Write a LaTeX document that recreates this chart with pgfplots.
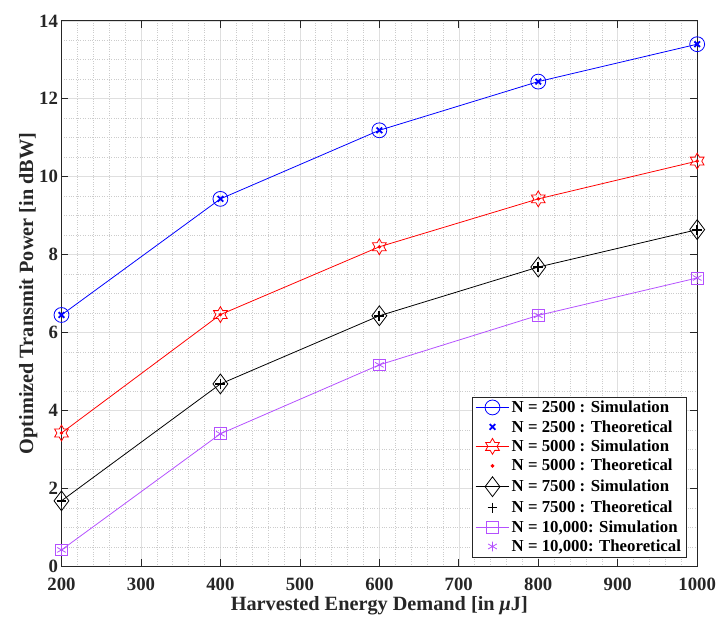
\documentclass[border=0pt]{standalone}
\usepackage{fontspec}
\setmainfont{Liberation Serif}
\usepackage{pgfplots}
\pgfplotsset{compat=1.18}

\definecolor{axgray}{RGB}{38,38,38}
\definecolor{gridgray}{RGB}{223,223,223}
\definecolor{mpurple}{RGB}{180,80,255}

% six-pointed star outline, like MATLAB's hexagram
\pgfdeclareplotmark{hexagram}{%
  \pgfpathmoveto{\pgfpointpolar{90}{\pgfplotmarksize}}%
  \pgfpathlineto{\pgfpointpolar{120}{0.577\pgfplotmarksize}}%
  \pgfpathlineto{\pgfpointpolar{150}{\pgfplotmarksize}}%
  \pgfpathlineto{\pgfpointpolar{180}{0.577\pgfplotmarksize}}%
  \pgfpathlineto{\pgfpointpolar{210}{\pgfplotmarksize}}%
  \pgfpathlineto{\pgfpointpolar{240}{0.577\pgfplotmarksize}}%
  \pgfpathlineto{\pgfpointpolar{270}{\pgfplotmarksize}}%
  \pgfpathlineto{\pgfpointpolar{300}{0.577\pgfplotmarksize}}%
  \pgfpathlineto{\pgfpointpolar{330}{\pgfplotmarksize}}%
  \pgfpathlineto{\pgfpointpolar{0}{0.577\pgfplotmarksize}}%
  \pgfpathlineto{\pgfpointpolar{30}{\pgfplotmarksize}}%
  \pgfpathlineto{\pgfpointpolar{60}{0.577\pgfplotmarksize}}%
  \pgfpathclose
  \pgfusepathqstroke
}

\begin{document}
\begin{tikzpicture}
\begin{axis}[
  scale only axis,
  width=641bp, height=550bp,
  xmin=200, xmax=1000, ymin=0, ymax=14,
  xtick={200,300,...,1000}, ytick={0,2,...,14},
  minor x tick num=4, minor y tick num=3,
  grid=both,
  major grid style={solid, gridgray, line width=0.6bp},
  minor grid style={dotted, gray!40, line width=0.6bp},
  axis line style={axgray, line width=0.7bp},
  tick style={axgray, line width=0.7bp},
  tick align=inside,
  major tick length=7bp, minor tick length=0pt,
  /pgf/number format/assume math mode=true,
  /pgf/number format/set thousands separator={},
  ticklabel style={font=\fontsize{19}{22}\selectfont\bfseries, text=axgray},
  xticklabel style={yshift=-8bp},
  label style={font=\fontsize{20.5}{24}\selectfont\bfseries, text=axgray},
  xlabel={Harvested Energy Demand [in {\itshape μ}J]},
  ylabel={Optimized Transmit Power [in dBW]},
  xlabel style={yshift=1bp},
  ylabel style={yshift=-5bp},
  legend cell align=left,
  legend style={
    at={(1,0)}, anchor=south east, xshift=-11bp, yshift=9bp,
    font=\fontsize{17}{19}\selectfont\bfseries,
    draw=axgray, line width=0.7bp,
    inner xsep=3bp, inner ysep=2bp,
    row sep=2.4bp,
  },
  legend image code/.code={%
    \draw[mark repeat=2, mark phase=2, #1]
      plot coordinates {(0bp,0bp) (17bp,0bp) (34bp,0bp)};},
]
% N = 2500
\addplot[blue, line width=0.8bp, mark=o, mark size=7.5bp] coordinates {
  (200,6.45) (400,9.43) (600,11.19) (800,12.44) (1000,13.40)};
\addlegendentry{N = 2500 : Simulation}
\addplot[blue, only marks, mark=x, mark size=4bp, line width=1.8bp] coordinates {
  (200,6.45) (400,9.43) (600,11.19) (800,12.44) (1000,13.40)};
\addlegendentry{N = 2500 : Theoretical}

% N = 5000
\addplot[red, line width=0.8bp, mark=hexagram, mark size=8bp] coordinates {
  (200,3.42) (400,6.46) (600,8.20) (800,9.43) (1000,10.40)};
\addlegendentry{N = 5000 : Simulation}
\addplot[red, only marks, mark=*, mark size=1.6bp] coordinates {
  (200,3.42) (400,6.46) (600,8.20) (800,9.43) (1000,10.40)};
\addlegendentry{N = 5000 : Theoretical}

% N = 7500
\addplot[black, line width=0.8bp, mark=diamond, mark size=10bp] coordinates {
  (200,1.68) (400,4.68) (600,6.43) (800,7.68) (1000,8.64)};
\addlegendentry{N = 7500 : Simulation}
\addplot[black, only marks, mark=+, mark size=5bp, line width=1.8bp] coordinates {
  (200,1.68) (400,4.68) (600,6.43) (800,7.68) (1000,8.64)};
\addlegendentry{N = 7500 : Theoretical}

% N = 10,000
\addplot[mpurple, line width=0.8bp, mark=square, mark size=6bp] coordinates {
  (200,0.42) (400,3.40) (600,5.17) (800,6.44) (1000,7.40)};
\addlegendentry{N = 10,000: Simulation}
\addplot[mpurple, only marks, mark=asterisk, mark size=5bp, line width=0.8bp] coordinates {
  (200,0.42) (400,3.40) (600,5.17) (800,6.44) (1000,7.40)};
\addlegendentry{N = 10,000: Theoretical}
\end{axis}
\pgfresetboundingbox
\path (-62bp,-58bp) rectangle (664bp,571bp);
\end{tikzpicture}
\end{document}
